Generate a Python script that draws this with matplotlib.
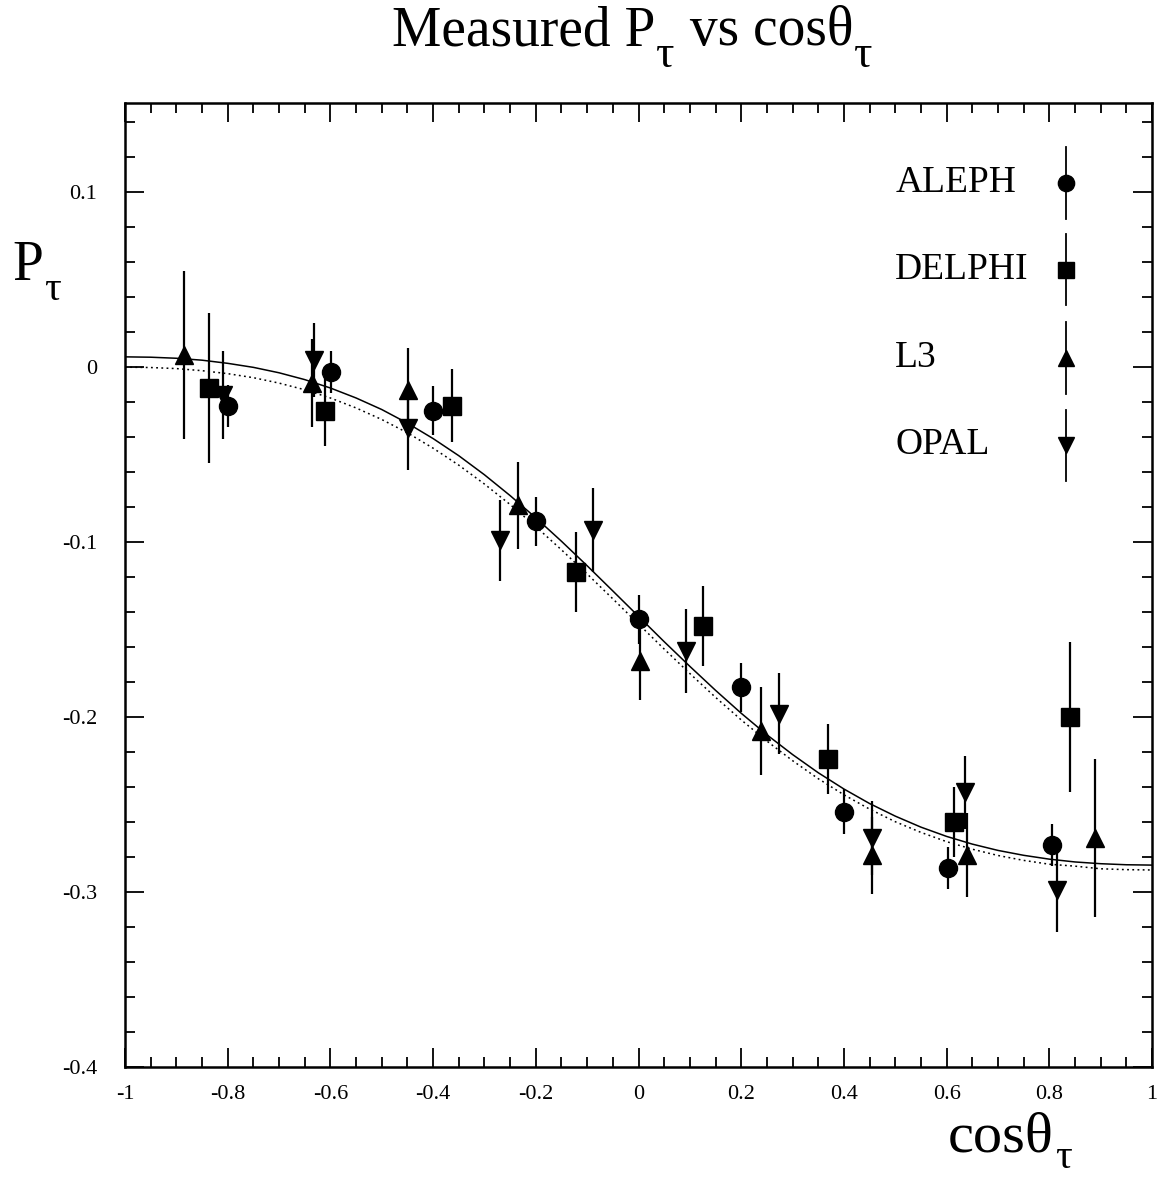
import matplotlib
matplotlib.use("Agg")
import matplotlib.pyplot as plt
from matplotlib.ticker import MultipleLocator, FuncFormatter

plt.rcParams['font.family'] = ['Liberation Serif', 'DejaVu Serif']

aleph_x = [-0.799, -0.598, -0.4, -0.2, 0.0, 0.2, 0.4, 0.603, 0.805]
aleph_y = [-0.022, -0.003, -0.025, -0.088, -0.144, -0.183, -0.254, -0.286, -0.273]
aleph_e = [0.012, 0.012, 0.014, 0.014, 0.014, 0.014, 0.013, 0.012, 0.012]

delphi_x = [-0.836, -0.61, -0.364, -0.121, 0.125, 0.369, 0.614, 0.841]
delphi_y = [-0.012, -0.025, -0.022, -0.117, -0.148, -0.224, -0.260, -0.200]
delphi_e = [0.043, 0.020, 0.021, 0.023, 0.023, 0.020, 0.020, 0.043]

l3_x = [-0.885, -0.635, -0.449, -0.234, 0.002, 0.238, 0.454, 0.639, 0.889]
l3_y = [0.007, -0.009, -0.013, -0.079, -0.168, -0.208, -0.279, -0.279, -0.269]
l3_e = [0.048, 0.025, 0.024, 0.025, 0.022, 0.025, 0.022, 0.024, 0.045]

opal_x = [-0.81, -0.631, -0.449, -0.269, -0.088, 0.093, 0.274, 0.454, 0.635, 0.815]
opal_y = [-0.016, 0.004, -0.035, -0.099, -0.093, -0.162, -0.198, -0.269, -0.243, -0.299]
opal_e = [0.025, 0.021, 0.024, 0.023, 0.024, 0.024, 0.023, 0.021, 0.021, 0.024]

# fit curve (solid) and universality curve (dotted), read every 0.05
curve_x = [-1.0, -0.95, -0.9, -0.85, -0.8, -0.75, -0.7, -0.65, -0.6, -0.55,
           -0.5, -0.45, -0.4, -0.35, -0.3, -0.25, -0.2, -0.15, -0.1, -0.05,
           0.0, 0.05, 0.1, 0.15, 0.2, 0.25, 0.3, 0.35, 0.4, 0.45,
           0.5, 0.55, 0.6, 0.65, 0.7, 0.75, 0.8, 0.85, 0.9, 0.95, 1.0]
fit_y = [0.0059, 0.0057, 0.0051, 0.0040, 0.0022, -0.0001, -0.0032, -0.0071,
         -0.0119, -0.0176, -0.0242, -0.0320, -0.0408, -0.0506, -0.0615, -0.0734,
         -0.0861, -0.0995, -0.1135, -0.1279, -0.1424, -0.1569, -0.1710, -0.1847,
         -0.1978, -0.2101, -0.2214, -0.2318, -0.2411, -0.2494, -0.2566, -0.2629,
         -0.2682, -0.2726, -0.2762, -0.2790, -0.2812, -0.2828, -0.2838, -0.2844,
         -0.2846]
univ_y = [0.0, -0.0002, -0.0008, -0.0020, -0.0037, -0.0060, -0.0091, -0.0129,
          -0.0176, -0.0233, -0.0299, -0.0375, -0.0463, -0.0560, -0.0668, -0.0785,
          -0.0911, -0.1044, -0.1182, -0.1324, -0.1468, -0.1611, -0.1751, -0.1887,
          -0.2016, -0.2137, -0.2249, -0.2352, -0.2444, -0.2526, -0.2598, -0.2659,
          -0.2712, -0.2755, -0.2791, -0.2819, -0.2841, -0.2852, -0.2867, -0.2872,
          -0.2874]

names = ['ALEPH', 'DELPHI', 'L3', 'OPAL']
markers = ['o', 's', '^', 'v']
sizes = [13, 12.5, 13, 13]

fig = plt.figure(figsize=(11.61, 11.78), dpi=100)
ax = fig.add_axes([125/1161, 1 - 1067/1178, 1027/1161, 964/1178])

ax.plot(curve_x, fit_y, color='black', lw=1.1, solid_joinstyle='round')
ax.plot(curve_x, univ_y, color='black', lw=1.1, ls=(0, (1.2, 2.2)))

sets = [(aleph_x, aleph_y, aleph_e), (delphi_x, delphi_y, delphi_e),
        (l3_x, l3_y, l3_e), (opal_x, opal_y, opal_e)]
for (xs, ys, es), m, ms in zip(sets, markers, sizes):
    ax.errorbar(xs, ys, yerr=es, fmt=m, color='black', ms=ms, elinewidth=1.6,
                capsize=0, zorder=3)

# hand-made legend on the right
leg_y = [0.917, 0.827, 0.7355, 0.645]
for name, m, ms, yy in zip(names, markers, sizes, leg_y):
    ax.text(0.75, yy, name, transform=ax.transAxes, fontsize=27,
            va='center', ha='left')
    ax.plot([0.916, 0.916], [yy - 0.037, yy + 0.037], transform=ax.transAxes,
            color='black', lw=1.3)
    ax.plot([0.916], [yy], marker=m, ms=ms * 0.9, color='black',
            transform=ax.transAxes)

ax.set_xlim(-1, 1)
ax.set_ylim(-0.4, 0.151)
ax.xaxis.set_major_locator(MultipleLocator(0.2))
ax.xaxis.set_minor_locator(MultipleLocator(0.05))
ax.yaxis.set_major_locator(MultipleLocator(0.1))
ax.yaxis.set_minor_locator(MultipleLocator(0.02))
fmt = FuncFormatter(lambda v, p: '%g' % round(v, 3))
ax.xaxis.set_major_formatter(fmt)
ax.yaxis.set_major_formatter(fmt)
ax.tick_params(which='both', direction='in', top=True, right=True,
               labelsize=16)
ax.tick_params(which='major', length=14, width=1.3)
ax.tick_params(which='minor', length=7, width=1.3)
ax.tick_params(axis='y', which='major', pad=20)
ax.tick_params(axis='x', which='major', pad=13)
for s in ax.spines.values():
    s.set_linewidth(1.8)

# texts with a lowered tau subscript, placed piece by piece (pixels from top-left)
renderer = fig.canvas.get_renderer()
H = 1178.0
W = 1161.0


def chain(x0, base, pieces):
    x = x0
    for txt, size, drop in pieces:
        t = fig.text(x / W, 1 - (base + drop) / H, txt, fontsize=size,
                     ha='left', va='baseline')
        x = t.get_window_extent(renderer).x1 + 1


chain(392, 45, [('Measured P', 40, 0), ('\u03c4', 33, 22),
                (' vs cos\u03b8', 40, 0), ('\u03c4', 33, 22)])
chain(12, 280, [('P', 40, 0), ('\u03c4', 30, 20)])
chain(948, 1151, [('cos\u03b8', 42, 0), ('\u03c4', 30, 17)])

fig.savefig('out.png', dpi=100)
